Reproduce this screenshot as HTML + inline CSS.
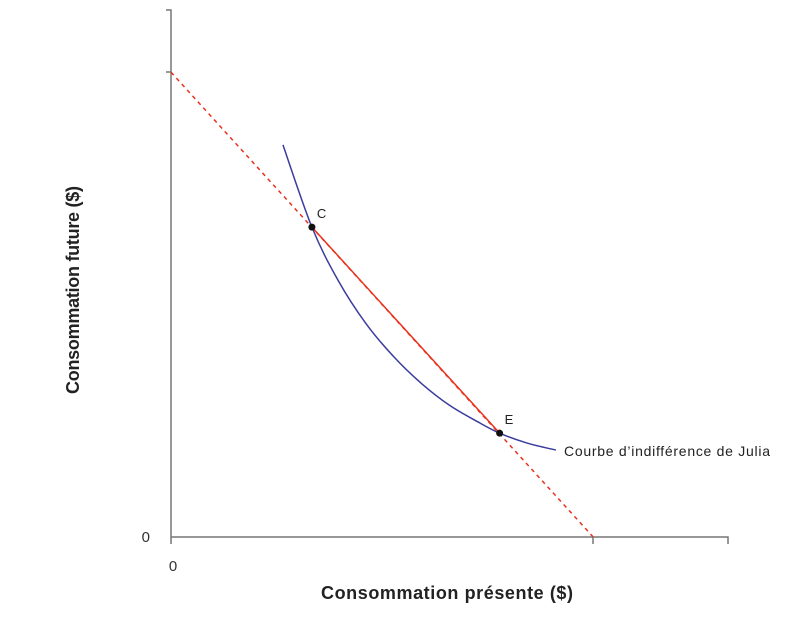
<!DOCTYPE html>
<html><head><meta charset="utf-8"><style>
body{margin:0;background:#fff;}
svg{display:block;font-family:"Liberation Sans",sans-serif;}
</style></head><body>
<svg id="chart" width="810" height="618">
<g id="axes"></g>
<g id="marks"></g>
<text x="173" y="571" font-size="15" fill="#333" text-anchor="middle">0</text>
<text x="150" y="542" font-size="15" fill="#333" text-anchor="end">0</text>
<text x="447" y="599" font-size="18" font-weight="bold" fill="#222" text-anchor="middle" textLength="252">Consommation présente ($)</text>
<text transform="translate(79,290) rotate(-90)" font-size="18" font-weight="bold" fill="#222" text-anchor="middle" textLength="208">Consommation future ($)</text>
<text x="564" y="456" font-size="14" fill="#222" textLength="206">Courbe d’indifférence de Julia</text>
</svg>
<script>
const budgetIntercepts=[75.8,88.2];
const pointNames=["C","E"];
const pointX=[25.3,59.0];
const pointY=[58.8,19.7];
const curveX=[20.1,25.3,30,35,40,45,50,55,59.0,64,69.1];
const curveY=[74.4,58.8,48.7,40.5,34.2,29.1,25.0,21.9,19.7,17.8,16.5];
const sx=v=>171+v*5.57, sy=v=>537-v*5.27;
const NS="http://www.w3.org/2000/svg";
const ax=document.getElementById('axes'), mk=document.getElementById('marks');
function add(p,tag,at){const e=document.createElementNS(NS,tag);for(const k in at)e.setAttribute(k,at[k]);p.appendChild(e);return e;}
let e;
e=add(ax,'path',{d:`M166,10H171V537H728V544M171,537V544M593,537V544M166,72H171`,stroke:'#777',fill:'none','stroke-width':1.5});


const bx=budgetIntercepts[0], by=budgetIntercepts[1];
e=add(mk,'line',{x1:sx(0),y1:sy(by),x2:sx(bx),y2:sy(0),stroke:'#e8321c','stroke-width':1.5,'stroke-dasharray':'4,4'});


e=add(mk,'line',{x1:sx(pointX[0]),y1:sy(pointY[0]),x2:sx(pointX[1]),y2:sy(pointY[1]),stroke:'#e8321c','stroke-width':1.5});


const P=curveX.map((x,i)=>[sx(x),sy(curveY[i])]);
let d=`M${P[0][0]},${P[0][1]}`;
for(let i=0;i<P.length-1;i++){const p0=P[Math.max(i-1,0)],p1=P[i],p2=P[i+1],p3=P[Math.min(i+2,P.length-1)];
d+=`C${p1[0]+(p2[0]-p0[0])/6},${p1[1]+(p2[1]-p0[1])/6} ${p2[0]-(p3[0]-p1[0])/6},${p2[1]-(p3[1]-p1[1])/6} ${p2[0]},${p2[1]}`;}
e=add(mk,'path',{d:d,stroke:'#3a3d9c',fill:'none','stroke-width':1.5});


pointNames.forEach((n,i)=>{
 const c=add(mk,'circle',{cx:sx(pointX[i]),cy:sy(pointY[i]),r:3.5,fill:'#111'});
 
 
 const t=add(mk,'text',{x:sx(pointX[i])+5,y:sy(pointY[i])-9,'font-size':13,fill:'#222'});
 t.textContent=n;
 
 
});
</script>
</body></html>
